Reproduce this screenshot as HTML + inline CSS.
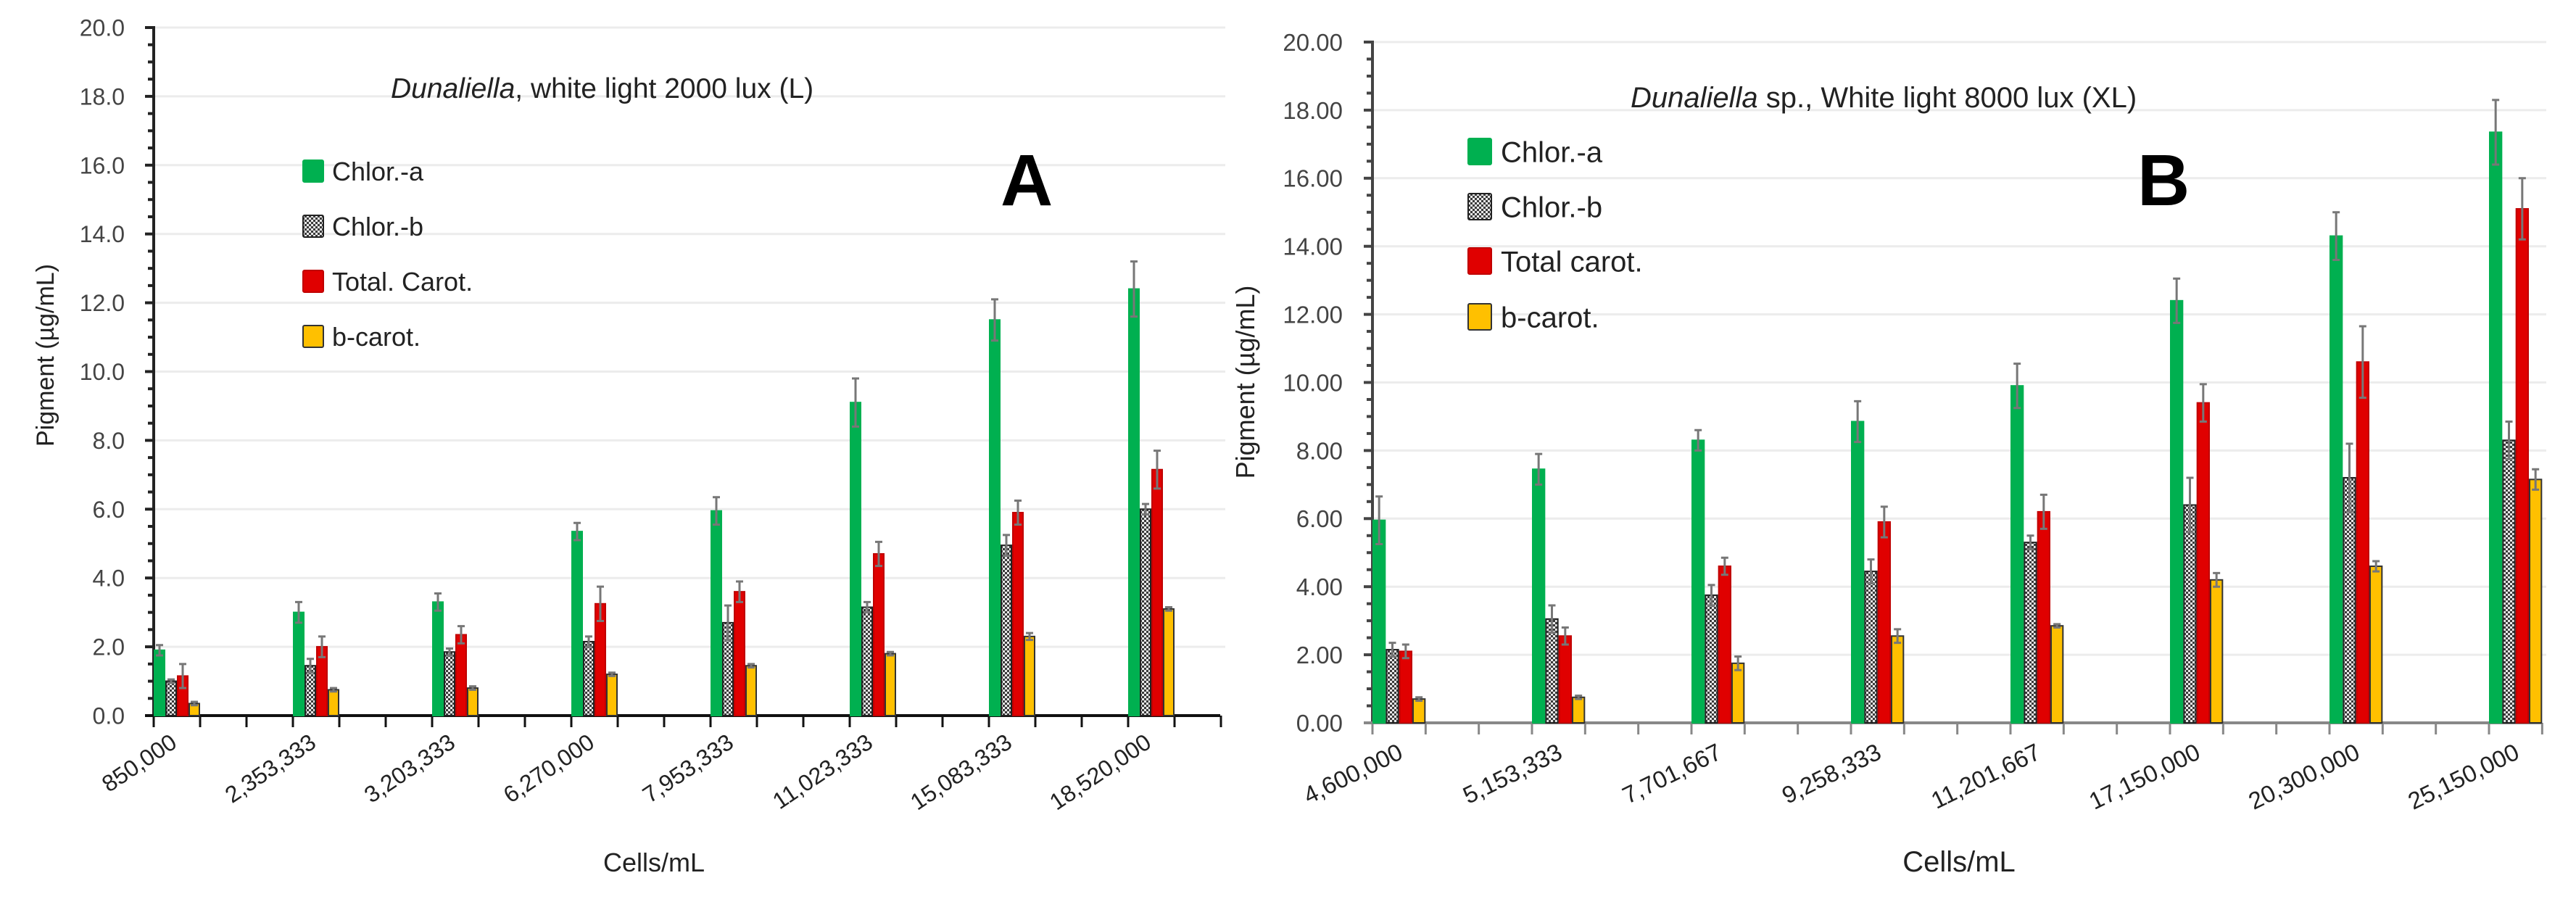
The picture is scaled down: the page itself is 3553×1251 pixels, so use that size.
<!DOCTYPE html>
<html><head><meta charset="utf-8">
<style>
html,body{margin:0;padding:0;background:#fff;}
svg{display:block;font-family:"Liberation Sans",sans-serif;}
</style></head>
<body>
<svg id="fig" width="3553" height="1251" viewBox="0 0 3553 1251" xmlns="http://www.w3.org/2000/svg">
<defs>
<pattern id="chk" width="6" height="6" patternUnits="userSpaceOnUse">
<rect width="6" height="6" fill="#3a3a3a"/><rect x="0" y="0" width="3" height="3" fill="#e8e8e8"/><rect x="3" y="3" width="3" height="3" fill="#e8e8e8"/>
</pattern>
</defs>
<g id="chartA"></g>
<g id="chartB"></g>
</svg>
<script>
// ---- Chart A data ----
const catsA = ["850,000","2,353,333","3,203,333","6,270,000","7,953,333","11,023,333","15,083,333","18,520,000"];
const chlorA_A = [1.9,3.0,3.3,5.35,5.95,9.1,11.5,12.4];
const chlorB_A = [1.0,1.45,1.85,2.15,2.7,3.15,4.95,6.0];
const totCar_A = [1.15,2.0,2.35,3.25,3.6,4.7,5.9,7.15];
const bCar_A = [0.35,0.75,0.8,1.2,1.45,1.8,2.3,3.1];
const errChlorA_A = [0.15,0.3,0.25,0.25,0.4,0.7,0.6,0.8];
const errChlorB_A = [0.05,0.2,0.1,0.15,0.5,0.15,0.3,0.15];
const errTot_A = [0.35,0.3,0.25,0.5,0.3,0.35,0.35,0.55];
const errB_A = [0.05,0.05,0.05,0.05,0.05,0.05,0.1,0.05];
const ticksA = ["0.0","2.0","4.0","6.0","8.0","10.0","12.0","14.0","16.0","18.0","20.0"];
// ---- Chart B data ----
const catsB = ["4,600,000","5,153,333","7,701,667","9,258,333","11,201,667","17,150,000","20,300,000","25,150,000"];
const chlorA_B = [5.95,7.45,8.3,8.85,9.9,12.4,14.3,17.35];
const chlorB_B = [2.15,3.05,3.75,4.45,5.3,6.4,7.2,8.3];
const totCar_B = [2.1,2.55,4.6,5.9,6.2,9.4,10.6,15.1];
const bCar_B = [0.7,0.75,1.75,2.55,2.85,4.2,4.6,7.15];
const errChlorA_B = [0.7,0.45,0.3,0.6,0.65,0.65,0.7,0.95];
const errChlorB_B = [0.2,0.4,0.3,0.35,0.2,0.8,1.0,0.55];
const errTot_B = [0.2,0.25,0.25,0.45,0.5,0.55,1.05,0.9];
const errB_B = [0.05,0.05,0.2,0.2,0.05,0.2,0.15,0.3];
const ticksB = ["0.00","2.00","4.00","6.00","8.00","10.00","12.00","14.00","16.00","18.00","20.00"];

const NS="http://www.w3.org/2000/svg";
function mk(parent,tag,attrs,text){const e=document.createElementNS(NS,tag);for(const k in attrs)e.setAttribute(k,attrs[k]);if(text!==undefined)e.textContent=text;parent.appendChild(e);return e;}

function drawChart(g,o){
  const y=v=>o.y0-(v/20)*(o.y0-o.y20);
  // gridlines + ticks
  for(let i=0;i<=10;i++){
    const v=i*2,yy=y(v);
    if(i>0){const gl=mk(g,"line",{x1:o.x0,x2:o.gridEnd,y1:yy,y2:yy,stroke:"#ececec","stroke-width":3});
    
    }
    const t=mk(g,"text",{x:o.tickLabelX,y:yy+o.tickFont*0.36,"text-anchor":"end","font-size":o.tickFont,fill:"#444"},o.ticks[i]);
    
    
    mk(g,"line",{x1:o.x0-12,x2:o.x0,y1:yy,y2:yy,stroke:o.axisColor,"stroke-width":4});
    if(i<10){for(let m=1;m<4;m++){const ym=y(v+m*0.5);mk(g,"line",{x1:o.x0-8,x2:o.x0,y1:ym,y2:ym,stroke:o.axisColor,"stroke-width":4});}}
  }
  // axes
  const ya=mk(g,"line",{x1:o.x0,x2:o.x0,y1:y(20)-2,y2:o.y0,stroke:o.axisColor,"stroke-width":4});
  
  
  const xa=mk(g,"line",{x1:o.x0-12,x2:o.axisEnd,y1:o.y0,y2:o.y0,stroke:o.xAxisColor,"stroke-width":4});
  
  
  const gw=o.catW/3;
  for(let x=o.x0;x<=o.axisEnd+1;x+=gw){mk(g,"line",{x1:x,x2:x,y1:o.y0,y2:o.y0+16,stroke:o.xAxisColor,"stroke-width":3});}
  const series=[
    {v:o.a,e:o.ea,fill:"#00b050",stroke:"#00b050",name:"bar-chlor-a"},
    {v:o.b,e:o.eb,fill:"url(#chk)",stroke:"#222",name:"bar-chlor-b"},
    {v:o.t,e:o.et,fill:"#e00000",stroke:"#c00000",name:"bar-total-carot"},
    {v:o.bc,e:o.ebc,fill:"#ffc000",stroke:"#333",name:"bar-b-carot"}];
  const bw=gw/4;
  o.cats.forEach((c,i)=>{
    const gs=o.x0+i*o.catW;
    series.forEach((s,k)=>{
      const bx=gs+k*bw, top=y(s.v[i]);
      const r=mk(g,"rect",{x:bx+1,y:top,width:bw-2,height:o.y0-top,fill:s.fill,stroke:s.stroke,"stroke-width":2});
      
      
      const cx=bx+bw/2, eT=y(s.v[i]+s.e[i]), eB=y(s.v[i]-s.e[i]);
      const eb=mk(g,"path",{d:`M${cx},${eB}V${eT}M${cx-5},${eT}H${cx+5}M${cx-5},${eB}H${cx+5}`,stroke:"#777","stroke-width":3,fill:"none"});
      
      
    });
    const ax=gs+o.lblDx, ay=o.y0+o.lblDy;
    const tl=mk(g,"text",{x:ax,y:ay,"text-anchor":"end","font-size":o.xFont,fill:"#222",transform:`rotate(${o.lblRot},${ax},${ay})`},c);
    
    
  });
  // legend
  const lg=mk(g,"g",{});
  
  
  series.forEach((s,k)=>{
    const ly=o.legY[k];
    const sw=mk(lg,"rect",{x:o.legX,y:ly-o.legSq/2,width:o.legSqW,height:o.legSq,fill:s.fill,stroke:s.stroke,"stroke-width":2,rx:2});
    
    
    const lt=mk(lg,"text",{x:o.legTX,y:ly+o.legFont*0.36,"font-size":o.legFont,fill:"#222"},o.legNames[k]);
    
    
  });
}

drawChart(document.getElementById('chartA'),{
  x0:212,y0:987,y20:38,catW:192,gridEnd:1690,axisEnd:1683,axisColor:"#222",xAxisColor:"#111",
  tickLabelX:172,tickFont:32,ticks:ticksA,cats:catsA,a:chlorA_A,b:chlorB_A,t:totCar_A,bc:bCar_A,
  ea:errChlorA_A,eb:errChlorB_A,et:errTot_A,ebc:errB_A,lblDx:34,lblDy:42,lblRot:-34,xFont:32,
  legX:418,legSqW:28,legSq:30,legTX:458,legY:[236,312,388,464],legFont:36,
  legNames:["Chlor.-a","Chlor.-b","Total. Carot.","b-carot."]});
drawChart(document.getElementById('chartB'),{
  x0:1893,y0:997,y20:58,catW:220,gridEnd:3512,axisEnd:3506,axisColor:"#444",xAxisColor:"#888",
  tickLabelX:1852,tickFont:33,ticks:ticksB,cats:catsB,a:chlorA_B,b:chlorB_B,t:totCar_B,bc:bCar_B,
  ea:errChlorA_B,eb:errChlorB_B,et:errTot_B,ebc:errB_B,lblDx:44,lblDy:48,lblRot:-26,xFont:33,
  legX:2025,legSqW:32,legSq:36,legTX:2070,legY:[209,285,360,437],legFont:40,
  legNames:["Chlor.-a","Chlor.-b","Total carot.","b-carot."]});
</script>
<svg style="position:absolute;left:0;top:0" width="3553" height="1251" viewBox="0 0 3553 1251" xmlns="http://www.w3.org/2000/svg">
<g font-family="Liberation Sans, sans-serif" fill="#222">
<text x="539" y="135" font-size="39"><tspan font-style="italic">Dunaliella</tspan>, white light 2000 lux (L)</text>
<text x="1380" y="283" font-size="100" font-weight="bold" fill="#000">A</text>
<text transform="translate(74,490) rotate(-90)" text-anchor="middle" font-size="34">Pigment (µg/mL)</text>
<text x="902" y="1202" text-anchor="middle" font-size="36">Cells/mL</text>
<text x="2249" y="148" font-size="40"><tspan font-style="italic">Dunaliella</tspan> sp., White light 8000 lux (XL)</text>
<text x="2948" y="283" font-size="100" font-weight="bold" fill="#000">B</text>
<text transform="translate(1730,527) rotate(-90)" text-anchor="middle" font-size="36">Pigment (µg/mL)</text>
<text x="2702" y="1202" text-anchor="middle" font-size="40">Cells/mL</text>
</g>
</svg>
</body></html>
